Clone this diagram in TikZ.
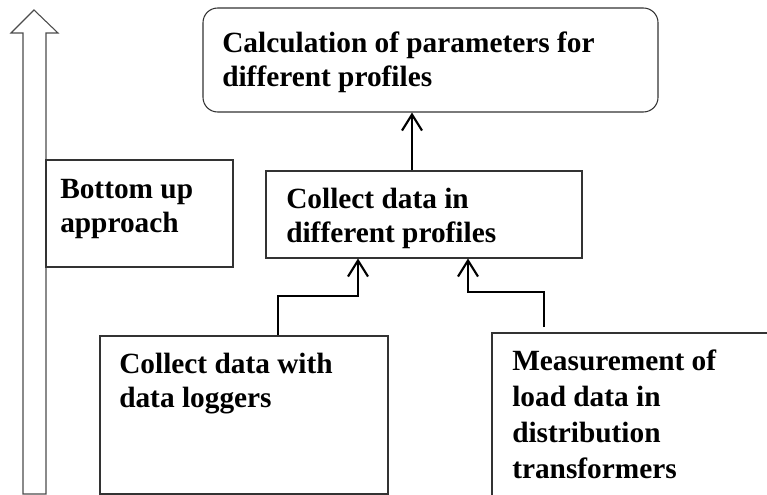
\documentclass[tikz,border=0pt]{standalone}
\usepackage{fontspec}
\setmainfont{Liberation Serif}
\usetikzlibrary{arrows.meta}
\begin{document}
\begin{tikzpicture}[x=0.75pt,y=-0.75pt,
  boxst/.style={draw=black!80,line width=0.8pt,inner sep=0pt,rectangle},
  txt/.style={font=\fontsize{22}{25.5}\selectfont\bfseries,align=left,inner sep=0pt,anchor=base west},
  conn/.style={line width=1.6pt,-{Straight Barb[length=12pt,width=15pt,line width=1.6pt]}},
  bigarrow/.style={draw=black!70,line width=0.8pt,fill=white}]
\useasboundingbox (0,0) rectangle (767,495);
\clip (0,0) rectangle (767,495);
% big hollow arrow
\draw[bigarrow] (23,494) -- (23,33) -- (11,33) -- (34,10) -- (58,33) -- (46,33) -- (46,494) -- cycle;
% boxes
\node[boxst,rounded corners=11pt,minimum width=341.25pt,minimum height=78pt] (top) at (430.5,60) {};
\node[boxst,minimum width=140.25pt,minimum height=80.25pt] (bu) at (139.5,213.5) {};
\node[boxst,minimum width=237pt,minimum height=65.25pt] (mid) at (424,214.5) {};
\node[boxst,minimum width=216pt,minimum height=118.5pt] (bl) at (244,415) {};
\node[boxst,minimum width=306pt,minimum height=200.25pt] (br) at (696,466.5) {};
% texts (base anchor = last line)
\node[txt] (ttop) at (222,87) {Calculation of parameters for\\different profiles};
\node[txt] (tbu) at (60,233) {Bottom up\\approach};
\node[txt] (tmid) at (286,243) {Collect data in\\different profiles};
\node[txt] (tbl) at (119,407) {Collect data with\\data loggers};
\node[txt,font=\fontsize{22}{26.8}\selectfont\bfseries] (tbr) at (512,478) {Measurement of\\load data in\\distribution\\transformers};
% connectors
\coordinate (x1) at (412,0);
\coordinate (a1) at (278,0);
\coordinate (j1) at (358,296);
\coordinate (s2) at (544,327);
\coordinate (j2) at (468,292);
\draw[conn] (mid.north -| x1) -- (top.south -| x1);
\draw[conn] (bl.north -| a1) |- (j1) -- (mid.south -| j1);
\draw[conn] (s2) |- (j2) -- (mid.south -| j2);
\end{tikzpicture}
\end{document}
